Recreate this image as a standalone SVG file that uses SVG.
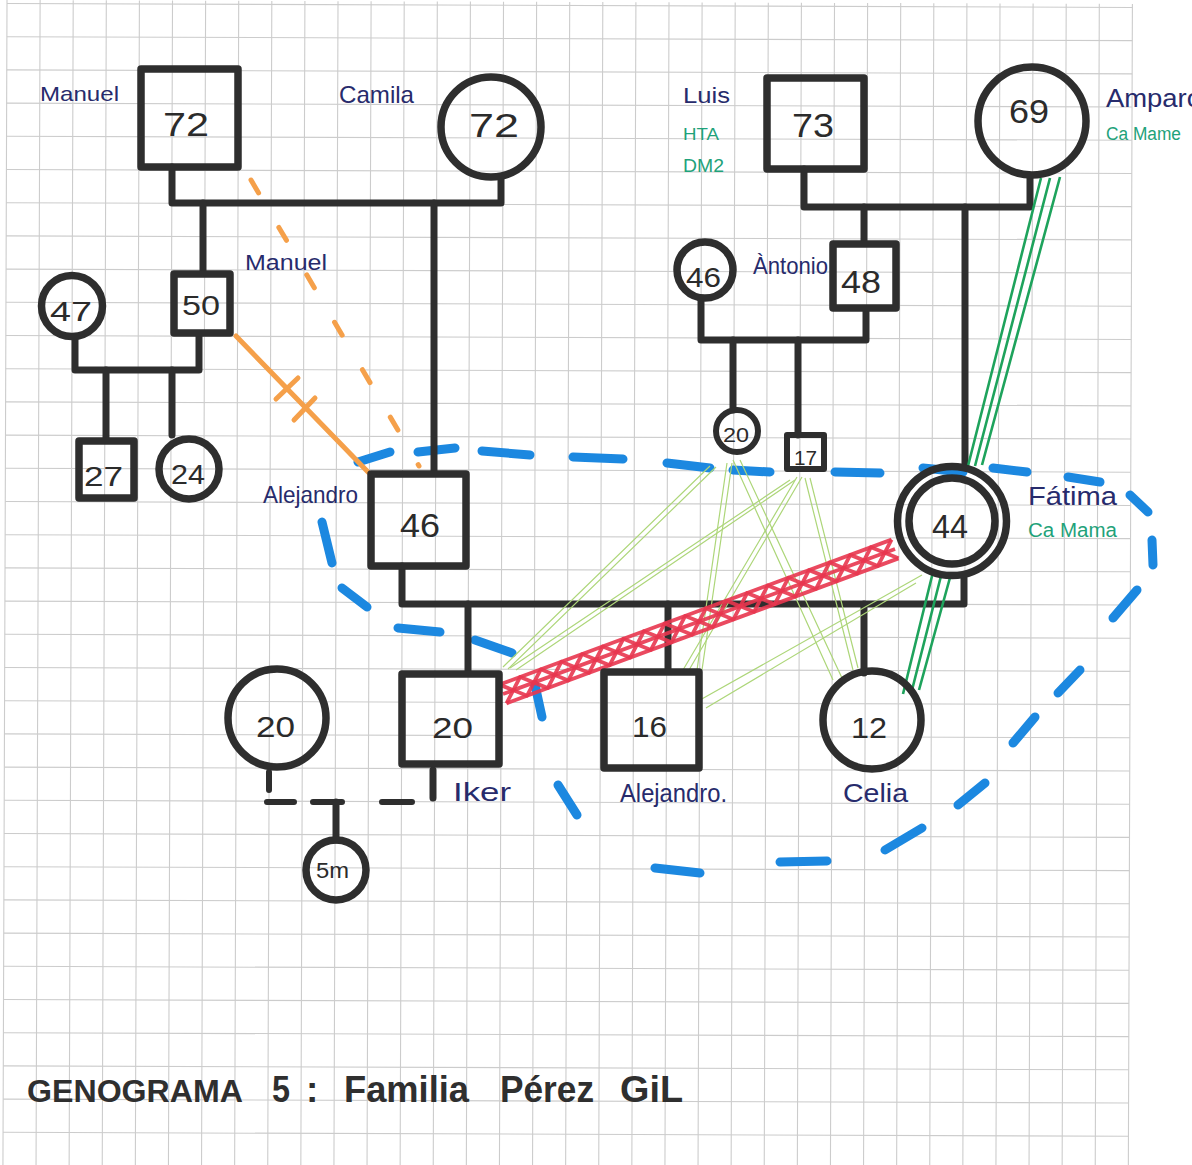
<svg xmlns="http://www.w3.org/2000/svg" width="1192" height="1165" viewBox="0 0 1192 1165">
  <defs>
    <style>
      .grid{fill:none;stroke:#cccccc;stroke-width:1.1}
      .ln{fill:none;stroke:#2e2e2e;stroke-width:7;stroke-linecap:round;stroke-linejoin:round}
      .dash{fill:none;stroke:#2e2e2e;stroke-width:6;stroke-linecap:round}
      .nd{fill:none;stroke:#2e2e2e;stroke-width:7.5;stroke-linejoin:round}
      .nds{fill:none;stroke:#2e2e2e;stroke-width:6;stroke-linejoin:round}
      .num{font-family:"Liberation Sans",Arial,sans-serif;fill:#2b2b2b}
      .lbl{font-family:"Liberation Sans",Arial,sans-serif;fill:#272b6c}
      .med{font-family:"Liberation Sans",Arial,sans-serif;fill:#1fa27a}
      .title{font-family:"Liberation Sans",Arial,sans-serif;font-weight:bold;fill:#2f2f2f;font-size:37px}
      .hh{fill:none;stroke:#1c88e0;stroke-width:9;stroke-linecap:round}
      .orange{fill:none;stroke:#f5a04a;stroke-width:5;stroke-linecap:round}
      .lg{fill:none;stroke:#add679;stroke-width:1.2}
      .fused{fill:none;stroke:#1ea35c;stroke-width:2.6}
      .hostile{fill:none;stroke:#e8364f;stroke-width:3.8;stroke-linejoin:round;opacity:0.9}
    </style>
  </defs>

  <!-- paper -->
  <rect x="0" y="0" width="1192" height="1165" fill="#ffffff"/>
  <g id="grid" transform="rotate(0.2 7 3.5)">
    <path class="grid" d="M7 0V1170M40.1 0V1170M73.2 0V1170M106.3 0V1170M139.4 0V1170M172.5 0V1170M205.6 0V1170M238.7 0V1170M271.8 0V1170M304.9 0V1170M338 0V1170M371.1 0V1170M404.2 0V1170M437.3 0V1170M470.4 0V1170M503.5 0V1170M536.6 0V1170M569.7 0V1170M602.8 0V1170M635.9 0V1170M669 0V1170M702.1 0V1170M735.2 0V1170M768.3 0V1170M801.4 0V1170M834.5 0V1170M867.6 0V1170M900.7 0V1170M933.8 0V1170M966.9 0V1170M1000 0V1170M1033.1 0V1170M1066.2 0V1170M1099.3 0V1170M1132.4 0V1170"/>
    <path class="grid" d="M7 3.5H1132.4M7 36.7H1132.4M7 69.9H1132.4M7 103.1H1132.4M7 136.3H1132.4M7 169.5H1132.4M7 202.7H1132.4M7 235.9H1132.4M7 269.1H1132.4M7 302.3H1132.4M7 335.5H1132.4M7 368.7H1132.4M7 401.9H1132.4M7 435.1H1132.4M7 468.3H1132.4M7 501.5H1132.4M7 534.7H1132.4M7 567.9H1132.4M7 601.1H1132.4M7 634.3H1132.4M7 667.5H1132.4M7 700.7H1132.4M7 733.9H1132.4M7 767.1H1132.4M7 800.3H1132.4M7 833.5H1132.4M7 866.7H1132.4M7 899.9H1132.4M7 933.1H1132.4M7 966.3H1132.4M7 999.5H1132.4M7 1032.7H1132.4M7 1065.9H1132.4M7 1099.1H1132.4M7 1132.3H1132.4"/>
  </g>

  <!-- household boundary (dashed loop) -->
  <g id="household">
    <path class="hh" d="M358 462L390 452M418 452L455 448M482 451L530 455M573 457L623 459M667 463L710 468M733 470L770 472M835 472L880 473M923 468L963 472M993 468L1027 472M1068 477L1100 482M1130 495L1148 512M1152 540L1153 565M1137 590L1113 618M1080 670L1058 693M1035 717L1013 743M985 783L958 805M922 828L885 850M827 861L780 862M700 873L655 868M577 815L558 785M542 717L535 685M512 653L475 640M440 632L398 628M367 607L342 588M332 563L322 522"/>
  </g>

  <g id="connectors">
    <!-- Manuel + Camila -->
    <path class="ln" d="M172 167V203H501V177"/>
    <path class="ln" d="M203 203V272M434 203V472"/>
    <!-- Manuel (50) + partner (47) -->
    <path class="ln" d="M75 338V370H199V335"/>
    <path class="ln" d="M106 370V439M172 370V435"/>
    <!-- Luis + Amparo -->
    <path class="ln" d="M804 169V207H1030V178"/>
    <path class="ln" d="M864 207V242M965 207V465"/>
    <!-- Antonio + partner (46) -->
    <path class="ln" d="M701 300V340H866V310"/>
    <path class="ln" d="M733 340V410M798 340V435"/>
    <!-- Alejandro + Fátima -->
    <path class="ln" d="M402 566V604H964V578"/>
    <path class="ln" d="M468 604V672M668 604V670M864 604V673"/>
    <!-- Iker + partner (20), child 5m -->
    <path class="dash" d="M269 772V790M267 802H294M313 802H342M382 802H412"/>
    <path class="ln" d="M433 770V798M336 802V840"/>

    <!-- cut-off: Manuel (50) - Alejandro -->
    <path class="orange" d="M236 336L368 472"/>
    <path class="orange" d="M276 399L298 378M294 420L315 398"/>
    <!-- distant: Manuel (72) - Alejandro -->
    <path class="orange" d="M251 180L419 466" stroke-dasharray="15 40"/>

    <!-- fused: Amparo - Fátima - Celia -->
    <path class="fused" d="M1041 178L968 466M1050 178L975 466M1060 177L982 465"/>
    <path class="fused" d="M933 572L903 694M942 572L911 694M951 574L919 690"/>

    <!-- distant ties (cousins to children) -->
    <path class="lg" d="M710 466L503 667M716 467L508 669"/>
    <path class="lg" d="M790 480L510 668M795 480L516 670"/>
    <path class="lg" d="M727 463L697 670M732 463L702 670"/>
    <path class="lg" d="M733 460L833 680M740 460L842 678"/>
    <path class="lg" d="M797 477L683 670M802 477L689 670"/>
    <path class="lg" d="M805 478L853 670M810 478L858 668"/>
    <path class="lg" d="M922 575L700 700M916 583L706 708"/>

    <!-- hostile: Iker - Fátima -->
    <g transform="translate(503 694) rotate(-20.3)">
      <path class="hostile" d="M0 -10H418M0 0H418M0 10H418"/>
      <path class="hostile" stroke-width="2.8" d="M0 -10L22 10L44 -10L66 10L88 -10L110 10L132 -10L154 10L176 -10L198 10L220 -10L242 10L264 -10L286 10L308 -10L330 10L352 -10L374 10L396 -10L418 10"/>
      <path class="hostile" stroke-width="2.8" d="M0 10L22 -10L44 10L66 -10L88 10L110 -10L132 10L154 -10L176 10L198 -10L220 10L242 -10L264 10L286 -10L308 10L330 -10L352 10L374 -10L396 10L418 -10"/>
    </g>
  </g>

  <!-- first generation -->
  <g id="manuel-grandfather">
    <rect class="nd" x="141" y="69" width="97" height="98"/>
    <text class="num" x="163" y="136" font-size="34" textLength="46" lengthAdjust="spacingAndGlyphs">72</text>
    <text class="lbl" x="40" y="101" font-size="21" textLength="79" lengthAdjust="spacingAndGlyphs">Manuel</text>
  </g>
  <g id="camila">
    <circle class="nd" cx="491" cy="127" r="50"/>
    <text class="num" x="469" y="137" font-size="34" textLength="50" lengthAdjust="spacingAndGlyphs">72</text>
    <text class="lbl" x="339" y="103" font-size="24" textLength="75" lengthAdjust="spacingAndGlyphs">Camila</text>
  </g>
  <g id="luis">
    <rect class="nd" x="767" y="78" width="97" height="91"/>
    <text class="num" x="792" y="137" font-size="33" textLength="42" lengthAdjust="spacingAndGlyphs">73</text>
    <text class="lbl" x="683" y="103" font-size="22" textLength="47" lengthAdjust="spacingAndGlyphs">Luis</text>
    <text class="med" x="683" y="140" font-size="17" textLength="36" lengthAdjust="spacingAndGlyphs">HTA</text>
    <text class="med" x="683" y="172" font-size="19" textLength="41" lengthAdjust="spacingAndGlyphs">DM2</text>
  </g>
  <g id="amparo">
    <circle class="nd" cx="1032" cy="121" r="54"/>
    <text class="num" x="1009" y="123" font-size="34" textLength="40" lengthAdjust="spacingAndGlyphs">69</text>
    <text class="lbl" x="1106" y="107" font-size="25" textLength="96" lengthAdjust="spacingAndGlyphs">Amparo</text>
    <text class="med" x="1106" y="140" font-size="18" textLength="75" lengthAdjust="spacingAndGlyphs">Ca Mame</text>
  </g>

  <!-- second generation -->
  <g id="manuel-50">
    <rect class="nd" x="174" y="274" width="56" height="59"/>
    <text class="num" x="182" y="315" font-size="28" textLength="38" lengthAdjust="spacingAndGlyphs">50</text>
    <text class="lbl" x="245" y="270" font-size="22" textLength="82" lengthAdjust="spacingAndGlyphs">Manuel</text>
  </g>
  <g id="partner-47">
    <circle class="nd" cx="72" cy="306" r="30.5"/>
    <text class="num" x="50" y="321" font-size="28" textLength="42" lengthAdjust="spacingAndGlyphs">47</text>
  </g>
  <g id="alejandro-46">
    <rect class="nd" x="371" y="474" width="95" height="92"/>
    <text class="num" x="400" y="537" font-size="33" textLength="40" lengthAdjust="spacingAndGlyphs">46</text>
    <text class="lbl" x="263" y="503" font-size="24" textLength="95" lengthAdjust="spacingAndGlyphs">Alejandro</text>
  </g>
  <g id="antonio">
    <rect class="nd" x="833" y="244" width="63" height="64"/>
    <text class="num" x="841" y="293" font-size="32" textLength="40" lengthAdjust="spacingAndGlyphs">48</text>
    <text class="lbl" x="753" y="274" font-size="24" textLength="75" lengthAdjust="spacingAndGlyphs">Àntonio</text>
  </g>
  <g id="partner-46">
    <circle class="nd" cx="705" cy="270" r="28"/>
    <text class="num" x="686" y="287" font-size="27" textLength="35" lengthAdjust="spacingAndGlyphs">46</text>
  </g>
  <g id="fatima">
    <circle class="nd" cx="952" cy="521" r="54.5"/>
    <circle class="nd" cx="952" cy="521" r="43"/>
    <text class="num" x="932" y="538" font-size="34" textLength="36" lengthAdjust="spacingAndGlyphs">44</text>
    <text class="lbl" x="1028" y="505" font-size="25" textLength="89" lengthAdjust="spacingAndGlyphs">Fátima</text>
    <text class="med" x="1028" y="537" font-size="20" textLength="89" lengthAdjust="spacingAndGlyphs">Ca Mama</text>
  </g>

  <!-- third generation -->
  <g id="child-27">
    <rect class="nd" x="79" y="441" width="55" height="57"/>
    <text class="num" x="84" y="486" font-size="28" textLength="39" lengthAdjust="spacingAndGlyphs">27</text>
  </g>
  <g id="child-24">
    <circle class="nd" cx="189" cy="469" r="30"/>
    <text class="num" x="171" y="484" font-size="28" textLength="34" lengthAdjust="spacingAndGlyphs">24</text>
  </g>
  <g id="cousin-20">
    <circle class="nds" cx="737" cy="431" r="21"/>
    <text class="num" x="723" y="442" font-size="20" textLength="26" lengthAdjust="spacingAndGlyphs">20</text>
  </g>
  <g id="cousin-17">
    <rect class="nds" x="787" y="435" width="37" height="34"/>
    <text class="num" x="794" y="465" font-size="20" textLength="23" lengthAdjust="spacingAndGlyphs">17</text>
  </g>
  <g id="iker">
    <rect class="nd" x="402" y="674" width="97" height="90"/>
    <text class="num" x="432" y="738" font-size="30" textLength="41" lengthAdjust="spacingAndGlyphs">20</text>
    <text class="lbl" x="453" y="801" font-size="26" textLength="58" lengthAdjust="spacingAndGlyphs">Iker</text>
  </g>
  <g id="alejandro-16">
    <rect class="nd" x="604" y="672" width="95" height="96"/>
    <text class="num" x="632" y="737" font-size="30" textLength="35" lengthAdjust="spacingAndGlyphs">16</text>
    <text class="lbl" x="620" y="802" font-size="25" textLength="107" lengthAdjust="spacingAndGlyphs">Alejandro.</text>
  </g>
  <g id="celia">
    <circle class="nd" cx="872" cy="720" r="49"/>
    <text class="num" x="851" y="738" font-size="30" textLength="36" lengthAdjust="spacingAndGlyphs">12</text>
    <text class="lbl" x="843" y="802" font-size="26" textLength="65" lengthAdjust="spacingAndGlyphs">Celia</text>
  </g>
  <g id="partner-20">
    <circle class="nd" cx="277" cy="718" r="49"/>
    <text class="num" x="256" y="737" font-size="30" textLength="39" lengthAdjust="spacingAndGlyphs">20</text>
  </g>

  <!-- fourth generation -->
  <g id="baby-5m">
    <circle class="nd" cx="336" cy="870" r="30"/>
    <text class="num" x="316" y="878" font-size="22" textLength="33" lengthAdjust="spacingAndGlyphs">5m</text>
  </g>

  <!-- heading -->
  <g id="title">
    <text class="title" x="27" y="1102" font-size="32" style="font-size:32px" textLength="216" lengthAdjust="spacingAndGlyphs">GENOGRAMA</text>
    <text class="title" x="272" y="1102" textLength="18" lengthAdjust="spacingAndGlyphs">5</text>
    <text class="title" x="306" y="1102">:</text>
    <text class="title" x="344" y="1102" textLength="125" lengthAdjust="spacingAndGlyphs">Familia</text>
    <text class="title" x="500" y="1102" textLength="94" lengthAdjust="spacingAndGlyphs">Pérez</text>
    <text class="title" x="620" y="1102" textLength="63" lengthAdjust="spacingAndGlyphs">GiL</text>
  </g>
</svg>
